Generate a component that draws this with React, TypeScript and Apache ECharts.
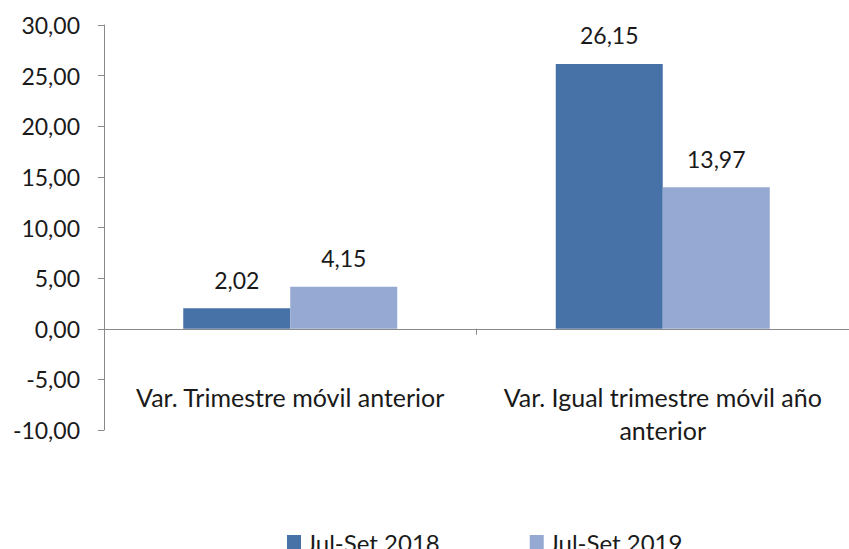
import React, { useEffect, useRef } from "react";
import * as echarts from "echarts";

const categories = ["Var. Trimestre móvil anterior", "Var. Igual trimestre móvil año\nanterior"];
const seriesNames = ["Jul-Set 2018", "Jul-Set 2019"];
const values2018 = [2.02, 26.15];
const values2019 = [4.15, 13.97];
const colors = ["#4672A8", "#95A9D2"];

const fmt = (v: number) => v.toFixed(2).replace(".", ",");

export default function App() {
  const ref = useRef<HTMLDivElement>(null);
  useEffect(() => {
    if (!ref.current) return;
    const chart = echarts.init(ref.current, null, { renderer: "svg" });
    const font = "Lato, 'Open Sans', sans-serif";
    const labelStyle = { show: true, position: "top", distance: 17, fontSize: 23, color: "#1a1a1a", formatter: (p: any) => fmt(p.value), fontFamily: font };
    chart.setOption({
      animation: false,
      textStyle: { fontFamily: font },
      grid: { left: 104, top: 25, width: 754, height: 405, containLabel: false },
      legend: {
        left: 282,
        top: 525,
        itemWidth: 14,
        itemHeight: 14,
        itemGap: 90,
        icon: "rect",
        textStyle: { fontSize: 24, color: "#1a1a1a", fontFamily: font },
        data: seriesNames,
      },
      xAxis: {
        type: "category",
        data: categories,
        axisLine: { onZero: true, lineStyle: { color: "#898989", width: 1 } },
        axisTick: { show: true, length: 6, lineStyle: { color: "#898989" } },
        axisLabel: { interval: 0, hideOverlap: false, margin: -50, fontSize: 25, color: "#1a1a1a", lineHeight: 33, fontFamily: font },
      },
      yAxis: {
        type: "value",
        min: -10,
        max: 30,
        interval: 5,
        splitLine: { show: false },
        axisLine: { show: true, lineStyle: { color: "#898989", width: 1 } },
        axisTick: { show: true, length: 6, lineStyle: { color: "#898989" } },
        axisLabel: { fontSize: 23, color: "#1a1a1a", margin: 24, formatter: (v: number) => fmt(v), fontFamily: font },
      },
      series: [
        {
          name: seriesNames[0],
          type: "bar",
          data: values2018,
          itemStyle: { color: colors[0] },
          barWidth: 107,
          barGap: "0%",
          label: labelStyle,
        },
        {
          name: seriesNames[1],
          type: "bar",
          data: values2019,
          itemStyle: { color: colors[1] },
          barWidth: 107,
          barGap: "0%",
          label: labelStyle,
        },
      ],
    });
    return () => chart.dispose();
  }, []);
  return <div ref={ref} style={{ width: 849, height: 549, position: "absolute", left: 0, top: 0, background: "#fff" }} />;
}
